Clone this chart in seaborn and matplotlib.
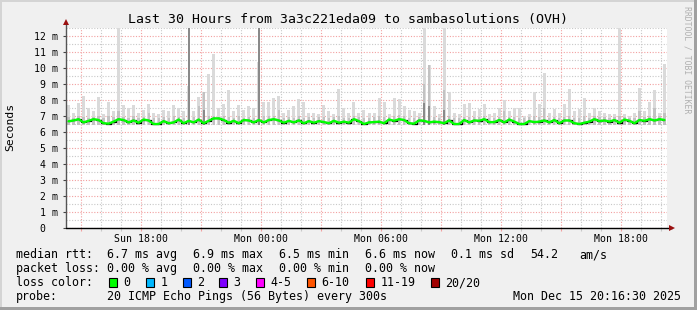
import numpy as np
import pandas as pd
import matplotlib
matplotlib.use("Agg")
import matplotlib.pyplot as plt
import matplotlib.dates as mdates
import matplotlib.transforms as mtransforms
from matplotlib.patches import Rectangle
from matplotlib.ticker import FuncFormatter, MultipleLocator, FixedLocator
import seaborn as sns

# ---------------- data ----------------
title = "Last 30 Hours from 3a3c221eda09 to sambasolutions (OVH)"
start_time = "2025-12-14 14:16:30"
end_time = "2025-12-15 20:16:30"
step = "15min"

median_rtt = [
    6.67, 6.72, 6.80, 6.60, 6.70, 6.80, 6.75, 6.55, 6.52, 6.65,
    6.80, 6.75, 6.60, 6.72, 6.58, 6.78, 6.72, 6.50, 6.50, 6.68,
    6.55, 6.60, 6.78, 6.55, 6.70, 6.60, 6.78, 6.55, 6.70, 6.85,
    6.85, 6.75, 6.58, 6.70, 6.55, 6.75, 6.72, 6.60, 6.75, 6.60,
    6.75, 6.80, 6.72, 6.58, 6.70, 6.60, 6.72, 6.55, 6.68, 6.58,
    6.68, 6.62, 6.55, 6.70, 6.58, 6.65, 6.58, 6.80, 6.68, 6.50,
    6.60, 6.62, 6.65, 6.55, 6.78, 6.70, 6.80, 6.75, 6.55, 6.52,
    6.72, 6.70, 6.60, 6.65, 6.62, 6.55, 6.72, 6.50, 6.50, 6.75,
    6.60, 6.72, 6.70, 6.80, 6.62, 6.62, 6.75, 6.60, 6.78, 6.65,
    6.50, 6.50, 6.68, 6.62, 6.65, 6.72, 6.60, 6.75, 6.55, 6.72,
    6.72, 6.55, 6.50, 6.58, 6.65, 6.80, 6.68, 6.72, 6.65, 6.75,
    6.58, 6.78, 6.70, 6.55, 6.75, 6.70, 6.80, 6.72, 6.80, 6.75,
]

smoke_max = [
    7.70, 7.20, 7.80, 8.25, 7.50, 7.30, 8.20, 7.10, 7.90, 7.30,
    12.5, 7.70, 7.50, 7.70, 7.20, 7.40, 7.75, 7.20, 7.10, 7.40,
    7.30, 7.70, 7.50, 7.30, 8.90, 7.30, 8.20, 8.50, 9.60, 10.9,
    7.50, 7.75, 8.60, 7.30, 7.70, 7.40, 7.60, 7.50, 10.4, 7.90,
    7.85, 8.10, 8.25, 7.20, 7.40, 7.60, 8.05, 7.90, 7.20, 7.20,
    7.10, 7.70, 7.30, 7.10, 8.70, 7.50, 7.20, 7.90, 7.20, 7.40,
    7.20, 7.20, 8.10, 7.90, 7.10, 8.15, 8.05, 7.60, 7.40, 7.30,
    7.20, 12.5, 10.2, 7.60, 7.10, 12.5, 8.50, 7.20, 7.10, 7.75,
    7.80, 7.30, 7.45, 7.75, 7.10, 7.20, 7.50, 8.00, 7.30, 7.50,
    7.50, 7.00, 7.10, 8.50, 7.75, 9.70, 7.20, 7.45, 7.20, 7.75,
    8.70, 7.30, 7.45, 8.10, 7.20, 7.50, 7.30, 7.20, 7.10, 7.10,
    12.5, 7.10, 7.00, 7.20, 8.75, 7.30, 7.85, 8.60, 7.20, 10.25,
]

smoke_mid = [
    6.95, 6.90, 7.00, 6.95, 6.90, 6.95, 7.00, 6.90, 7.00, 6.95,
    7.30, 6.95, 6.90, 7.00, 6.90, 6.95, 7.20, 6.90, 6.90, 6.95,
    6.90, 7.00, 6.95, 6.90, 8.30, 6.95, 7.60, 8.50, 7.00, 7.00,
    6.95, 7.00, 6.95, 6.90, 7.00, 6.90, 6.95, 6.90, 8.00, 7.00,
    7.00, 7.00, 7.40, 6.90, 6.95, 6.90, 7.00, 6.90, 6.95, 6.90,
    6.95, 6.95, 6.90, 6.95, 7.00, 6.90, 6.90, 7.00, 6.95, 6.90,
    6.90, 6.95, 7.00, 6.95, 6.95, 7.00, 7.05, 7.00, 6.90, 6.90,
    6.95, 9.00, 10.2, 6.95, 6.90, 8.60, 7.00, 6.90, 6.90, 6.95,
    6.95, 6.95, 6.95, 7.00, 6.90, 6.90, 6.95, 7.30, 6.95, 6.95,
    6.90, 6.90, 6.95, 7.00, 6.95, 7.50, 6.90, 6.95, 6.90, 6.95,
    7.00, 6.90, 6.90, 7.00, 6.90, 7.00, 6.95, 6.95, 6.90, 6.95,
    7.00, 6.95, 6.90, 6.90, 7.30, 6.95, 7.00, 7.50, 7.00, 7.20,
]

smoke_dark = {24: 12.5, 27: 7.4, 38: 12.5, 71: 7.8, 72: 7.6, 75: 7.4}
smoke_floor = 6.45

y_ticks = list(range(0, 13))
y_labels = ["0"] + [f"{v} m" for v in range(1, 13)]

legend_rows = [
    ["median rtt:", "6.7 ms avg", "6.9 ms max", "6.5 ms min", "6.6 ms now", "0.1 ms sd", "54.2", "am/s"],
    ["packet loss:", "0.00 % avg", "0.00 % max", "0.00 % min", "0.00 % now"],
]
loss_labels = ["0", "1", "2", "3", "4-5", "6-10", "11-19", "20/20"]
loss_colors = ["#00ff00", "#00b8ff", "#0059ff", "#7e00ff", "#ff00ff", "#ff5500", "#ff0000", "#a10000"]
probe_text = "20 ICMP Echo Pings (56 Bytes) every 300s"
stamp_text = "Mon Dec 15 20:16:30 2025"

# ---------------- figure ----------------
W, H = 697, 310
BG = "#f0f0f0"
MONO = "DejaVu Sans Mono"
sns.set_style("white")
plt.rcParams["font.family"] = [MONO]

fig = plt.figure(figsize=(W / 100, H / 100), dpi=100, facecolor=BG)

def px(x, y):
    return x / W, 1 - y / H

ax_left, ax_right, ax_top, ax_bottom = 66, 667, 28, 228
ax = fig.add_axes([ax_left / W, 1 - ax_bottom / H, (ax_right - ax_left) / W, (ax_bottom - ax_top) / H])
ax.set_facecolor("white")

t0 = pd.Timestamp(start_time)
t1 = pd.Timestamp(end_time)
times = pd.date_range(t0, periods=len(median_rtt), freq=step) + pd.Timedelta("7.5min")
bin_w = pd.Timedelta(step) / pd.Timedelta("1D")

df = pd.DataFrame({"time": times, "median": median_rtt, "max": smoke_max, "mid": smoke_mid})

# smoke
ax.bar(df["time"], df["max"] - smoke_floor, bottom=smoke_floor, width=bin_w * 0.6,
       color="#dadada", linewidth=0, zorder=2)
ax.bar(df["time"], df["mid"] - smoke_floor, bottom=smoke_floor, width=bin_w * 0.45,
       color="#c2c2c2", linewidth=0, zorder=2.1)
dk_idx = sorted(smoke_dark)
ax.bar(df["time"].iloc[dk_idx], [smoke_dark[i] - smoke_floor for i in dk_idx], bottom=smoke_floor,
       width=bin_w * 0.4, color="#8a8a8a", linewidth=0, zorder=2.2)

# median line
sns.lineplot(data=df, x="time", y="median", ax=ax, color="black", lw=0.9,
             drawstyle="steps-mid", zorder=3)
sns.lineplot(data=df, x="time", y="median", ax=ax, color="#00ff00", lw=1.7, zorder=4)

ax.set_xlim(t0, t1)
ax.set_ylim(0, 12.5)
ax.set_xlabel("")
ax.set_ylabel("")

# grid
ax.yaxis.set_major_locator(FixedLocator(y_ticks))
ax.yaxis.set_minor_locator(MultipleLocator(0.5))
ax.xaxis.set_major_locator(mdates.HourLocator(byhour=range(0, 24, 3)))
ax.xaxis.set_minor_locator(mdates.HourLocator())

def xfmt(v, pos):
    d = mdates.num2date(v)
    return d.strftime("%a %H:%M") if d.hour % 6 == 0 else ""

ax.xaxis.set_major_formatter(FuncFormatter(xfmt))
ax.set_yticklabels(y_labels)

ax.grid(which="minor", color="#c8c8c8", linestyle=(0, (1, 1.5)), linewidth=0.8, zorder=1)
ax.grid(which="major", color="#f2a0a0", linestyle=(0, (1, 1.5)), linewidth=0.8, zorder=1)
ax.set_axisbelow(True)

ax.tick_params(axis="y", which="major", length=2.2, width=0.8, color="#444444", pad=3.8,
               labelsize=7.1, labelcolor="black", left=True)
ax.tick_params(axis="y", which="minor", length=0, left=False)
ax.tick_params(axis="x", which="major", length=2, width=0.8, color="#f2a0a0", pad=2.6,
               labelsize=7.1, labelcolor="black", bottom=True)
ax.tick_params(axis="x", which="minor", length=2, width=0.8, color="#c8c8c8", bottom=True)
for lab in ax.get_yticklabels():
    lab.set_fontfamily(MONO)
    lab.set_horizontalalignment("right")
for lab in ax.get_xticklabels():
    lab.set_fontfamily(MONO)

# shift "0" label to align with digit column
zero_lab = ax.get_yticklabels()[0]
zero_lab.set_transform(zero_lab.get_transform() + mtransforms.ScaledTranslation(-12 / 100, 0, fig.dpi_scale_trans))

for s in ax.spines.values():
    s.set_visible(False)

# axis lines with arrows
ax.plot([0, 0], [0, 1.025], transform=ax.transAxes, color="#555555", lw=1, clip_on=False, zorder=5)
ax.plot([0, 1.008], [0, 0], transform=ax.transAxes, color="black", lw=1, clip_on=False, zorder=5)
ax.plot([0], [1.03], transform=ax.transAxes, marker="^", ms=4.5, color="#9a1010", clip_on=False, zorder=6, mew=0)
ax.plot([1.008], [0], transform=ax.transAxes, marker=">", ms=4.5, color="#9a1010", clip_on=False, zorder=6, mew=0)

# titles / labels
fig.text(*px(348, 23.5), title, ha="center", va="baseline", fontsize=9.5, family=MONO, color="black")
fig.text(*px(10, 127), "Seconds", ha="center", va="center", rotation=90, fontsize=8.2, family=MONO, color="black")
fig.text(*px(687, 60), "RRDTOOL / TOBI OETIKER", ha="center", va="center", rotation=270,
         fontsize=5.9, family=MONO, color="#b0b0b0")

# legend rows
FS = 8.4
row_x = [16, 107, 193, 279, 365, 451, 530, 579]
for r, row in enumerate(legend_rows):
    yb = 258 + 14 * r
    for x, t in zip(row_x, row):
        fig.text(*px(x, yb), t, ha="left", va="baseline", fontsize=FS, family=MONO, color="black")

fig.text(*px(16, 286), "loss color:", ha="left", va="baseline", fontsize=FS, family=MONO, color="black")
box_x = [109, 146, 183, 219, 256, 307, 366, 431]
for bx, lab, col in zip(box_x, loss_labels, loss_colors):
    fig.patches.append(Rectangle(px(bx, 287), 7.5 / W, 9 / H, transform=fig.transFigure,
                                 facecolor=col, edgecolor="black", linewidth=0.8))
    fig.text(*px(bx + 14.5, 286), lab, ha="left", va="baseline", fontsize=FS, family=MONO, color="black")

fig.text(*px(16, 300), "probe:", ha="left", va="baseline", fontsize=FS, family=MONO, color="black")
fig.text(*px(107, 300), probe_text, ha="left", va="baseline", fontsize=FS, family=MONO, color="black")
fig.text(*px(681, 300), stamp_text, ha="right", va="baseline", fontsize=FS, family=MONO, color="black")

# 3D frame
fig.patches.append(Rectangle((0, 1 - 1.5 / H), 1, 1.5 / H, transform=fig.transFigure, color="#d4d4d4", lw=0))
fig.patches.append(Rectangle((0, 0), 1.5 / W, 1, transform=fig.transFigure, color="#d4d4d4", lw=0))
fig.patches.append(Rectangle((0, 0), 1, 3 / H, transform=fig.transFigure, color="#a0a0a0", lw=0))
fig.patches.append(Rectangle((1 - 3 / W, 0), 3 / W, 1, transform=fig.transFigure, color="#a0a0a0", lw=0))

fig.savefig("out.png", dpi=100, facecolor=BG)
